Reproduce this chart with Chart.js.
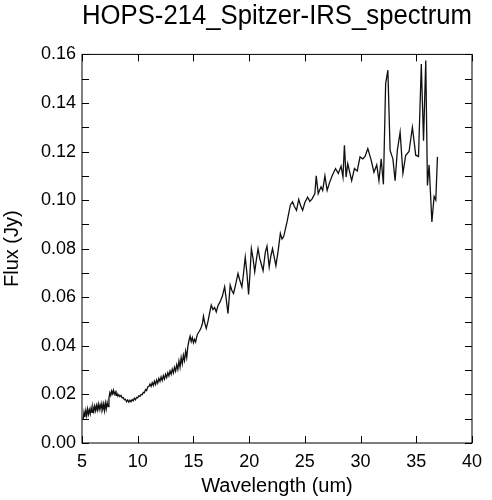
<!DOCTYPE html>
<html>
<head>
<meta charset="utf-8">
<script src="https://cdn.jsdelivr.net/npm/chart.js@4.4.1/dist/chart.umd.min.js"></script>
<style>
    body { margin: 0; background: #fff; }
    #wrap { width: 492px; height: 500px; }
</style>
</head>
<body>
<div id="wrap"><canvas id="spectrum" width="492" height="500"></canvas></div>
<script>
// Spectrum values
const wavelength = [
    5.10, 5.18, 5.26, 5.34, 5.42, 5.50, 5.58, 5.66, 5.74, 5.82, 5.90, 5.98, 6.06, 6.14, 6.22, 6.30,
    6.38, 6.46, 6.54, 6.62, 6.70, 6.78, 6.86, 6.94, 7.02, 7.10, 7.18, 7.26, 7.34, 7.42, 7.50, 7.58,
    7.66, 7.74, 7.82, 7.90, 7.98, 8.06, 8.14, 8.22, 8.30, 8.40, 8.50, 8.60, 8.70, 8.80, 8.90, 9.00,
    9.10, 9.20, 9.30, 9.40, 9.50, 9.60, 9.70, 9.80, 9.90, 10.00, 10.10, 10.20, 10.30, 10.40, 10.50,
    10.60, 10.70, 10.80, 10.90, 11.00, 11.10, 11.20, 11.30, 11.40, 11.50, 11.60, 11.70, 11.80, 11.90,
    12.00, 12.10, 12.20, 12.30, 12.40, 12.50, 12.60, 12.70, 12.80, 12.90, 13.00, 13.10, 13.20, 13.30,
    13.40, 13.50, 13.60, 13.70, 13.80, 13.90, 14.00, 14.10, 14.20, 14.30, 14.40, 14.50, 14.60, 14.70,
    14.80, 14.90, 15.00, 15.10, 15.20, 15.35, 15.50, 15.65, 15.80, 15.90, 16.00, 16.15, 16.30, 16.45,
    16.60, 16.75, 16.90, 17.05, 17.20, 17.40, 17.60, 17.80, 17.95, 18.10, 18.30, 18.45, 18.60, 18.80,
    19.00, 19.15, 19.35, 19.50, 19.65, 19.80, 19.95, 20.05, 20.20, 20.35, 20.50, 20.65, 20.80, 20.95,
    21.10, 21.25, 21.45, 21.60, 21.80, 21.95, 22.10, 22.25, 22.40, 22.60, 22.80, 22.95, 23.10, 23.40,
    23.70, 23.90, 24.05, 24.25, 24.45, 24.60, 24.80, 25.00, 25.25, 25.45, 25.65, 25.90, 26.02, 26.20,
    26.45, 26.60, 26.80, 27.00, 27.20, 27.45, 27.75, 28.00, 28.25, 28.42, 28.55, 28.70, 28.85, 29.00,
    29.20, 29.45, 29.70, 29.95, 30.20, 30.40, 30.65, 30.95, 31.20, 31.45, 31.65, 31.85, 32.05, 32.25,
    32.45, 32.65, 32.90, 33.10, 33.30, 33.55, 33.80, 34.05, 34.35, 34.65, 34.95, 35.20, 35.45, 35.65,
    35.85, 36.00, 36.15, 36.40, 36.60, 36.75, 36.90
];

const flux = [
    0.0098, 0.0127, 0.0106, 0.0134, 0.0112, 0.0140, 0.0118, 0.0137, 0.0120, 0.0145, 0.0126, 0.0148, 0.0130, 0.0152, 0.0133, 0.0154,
    0.0136, 0.0160, 0.0138, 0.0157, 0.0140, 0.0162, 0.0138, 0.0160, 0.0133, 0.0164, 0.0141, 0.0167, 0.0150, 0.0185, 0.0207, 0.0196,
    0.0214, 0.0203, 0.0217, 0.0201, 0.0210, 0.0196, 0.0204, 0.0193, 0.0199, 0.0191, 0.0196, 0.0186, 0.0187, 0.0178, 0.0180, 0.0170,
    0.0177, 0.0168, 0.0176, 0.0170, 0.0179, 0.0174, 0.0184, 0.0178, 0.0188, 0.0186, 0.0194, 0.0192, 0.0200, 0.0199, 0.0209,
    0.0207, 0.0220, 0.0216, 0.0231, 0.0233, 0.0243, 0.0233, 0.0248, 0.0237, 0.0254, 0.0241, 0.0259, 0.0246, 0.0266,
    0.0254, 0.0272, 0.0258, 0.0277, 0.0263, 0.0283, 0.0270, 0.0289, 0.0276, 0.0297, 0.0283, 0.0304, 0.0288, 0.0312,
    0.0296, 0.0322, 0.0303, 0.0338, 0.0312, 0.0352, 0.0326, 0.0362, 0.0340, 0.0378, 0.0352, 0.0398, 0.0422, 0.0440,
    0.0418, 0.0434, 0.0413, 0.0427, 0.0416, 0.0447, 0.0458, 0.0470, 0.0490, 0.0522, 0.0498, 0.0472, 0.0500, 0.0535,
    0.0568, 0.0550, 0.0558, 0.0540, 0.0565, 0.0582, 0.0605, 0.0643, 0.0590, 0.0533, 0.0650, 0.0628, 0.0616, 0.0655,
    0.0698, 0.0672, 0.0643, 0.0700, 0.0765, 0.0700, 0.0612, 0.0680, 0.0800, 0.0760, 0.0705, 0.0755, 0.0800, 0.0760,
    0.0735, 0.0710, 0.0785, 0.0810, 0.0725, 0.0770, 0.0800, 0.0765, 0.0730, 0.0790, 0.0863, 0.0840, 0.0850, 0.0910,
    0.0980, 0.0993, 0.0975, 0.0958, 0.1003, 0.0980, 0.0958, 0.0990, 0.1012, 0.0995, 0.1005, 0.1027, 0.1100, 0.1027,
    0.1055, 0.1040, 0.1100, 0.1040, 0.1070, 0.1100, 0.1130, 0.1110, 0.1140, 0.1095, 0.1226, 0.1095, 0.1150, 0.1120,
    0.1080, 0.1130, 0.1120, 0.1178, 0.1170, 0.1180, 0.1212, 0.1165, 0.1115, 0.1145, 0.1080, 0.1170, 0.1065, 0.1480,
    0.1535, 0.1205, 0.1170, 0.1080, 0.1205, 0.1280, 0.1110, 0.1185, 0.1200, 0.1300, 0.1185, 0.1180, 0.1560, 0.1245,
    0.1575, 0.1060, 0.1145, 0.0910, 0.1015, 0.1000, 0.1178
];

// Axis ticks
const xTicks = [5, 10, 15, 20, 25, 30, 35, 40];
const yTicks = [0, 0.01, 0.02, 0.03, 0.04, 0.05, 0.06, 0.07, 0.08, 0.09, 0.10, 0.11, 0.12, 0.13, 0.14, 0.15, 0.16];

const FONT = "'Liberation Sans', Arial, Helvetica, sans-serif";

// Box frame with inward tick marks on all four sides
const insideTicks = {
    id: 'insideTicks',
    afterDatasetsDraw(chart) {
        const { ctx, chartArea: a, scales } = chart;
        const len = 7;
        ctx.save();
        ctx.strokeStyle = '#000';
        ctx.lineWidth = 1;
        ctx.strokeRect(a.left, a.top, a.right - a.left, a.bottom - a.top);
        ctx.beginPath();
        xTicks.forEach(v => {
            const px = Math.round(scales.x.getPixelForValue(v)) + 0.5;
            ctx.moveTo(px, a.bottom); ctx.lineTo(px, a.bottom - len);
            ctx.moveTo(px, a.top); ctx.lineTo(px, a.top + len);
        });
        yTicks.forEach(v => {
            const py = Math.round(scales.y.getPixelForValue(v)) + 0.5;
            ctx.moveTo(a.left, py); ctx.lineTo(a.left + len, py);
            ctx.moveTo(a.right, py); ctx.lineTo(a.right - len, py);
        });
        ctx.stroke();
        ctx.restore();
    }
};

new Chart(document.getElementById('spectrum'), {
    type: 'line',
    data: {
        datasets: [{
            data: wavelength.map((w, i) => ({ x: w, y: flux[i] })),
            borderColor: '#111',
            borderWidth: 1.3,
            pointRadius: 0,
            tension: 0,
            fill: false
        }]
    },
    options: {
        responsive: false,
        animation: false,
        devicePixelRatio: 1,
        layout: { padding: { top: 0, right: 20, bottom: 0, left: 0 } },
        plugins: {
            legend: { display: false },
            tooltip: { enabled: false },
            title: {
                display: true,
                text: 'HOPS-214_Spitzer-IRS_spectrum',
                fullSize: false,
                color: '#000',
                font: { family: FONT, size: 27, weight: 'normal' },
                padding: { top: 0, bottom: 22 }
            }
        },
        scales: {
            x: {
                type: 'linear',
                min: 5,
                max: 40,
                afterFit: s => { s.height = 57; },
                grid: { display: false, drawTicks: false },
                border: { display: false },
                ticks: {
                    stepSize: 5,
                    padding: 8,
                    color: '#000',
                    maxRotation: 0,
                    font: { family: FONT, size: 18 }
                },
                title: {
                    display: true,
                    text: 'Wavelength (um)',
                    color: '#000',
                    font: { family: FONT, size: 20 },
                    padding: { top: 2, bottom: 2 }
                }
            },
            y: {
                min: 0,
                max: 0.16,
                afterFit: s => { s.width = 82; },
                grid: { display: false, drawTicks: false },
                border: { display: false },
                ticks: {
                    stepSize: 0.02,
                    padding: 6,
                    color: '#000',
                    font: { family: FONT, size: 18 },
                    callback: v => v.toFixed(2)
                },
                title: {
                    display: true,
                    text: 'Flux (Jy)',
                    color: '#000',
                    font: { family: FONT, size: 20 },
                    padding: { top: 0, bottom: 0 }
                }
            }
        }
    },
    plugins: [insideTicks]
});
</script>
</body>
</html>
